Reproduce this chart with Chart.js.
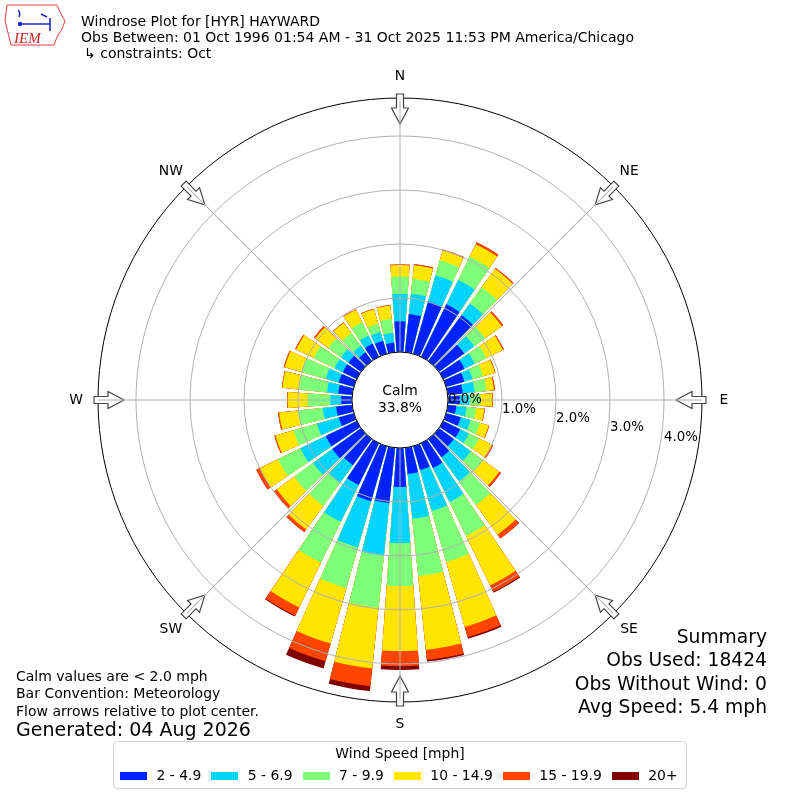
<!DOCTYPE html>
<html>
<head>
<meta charset="utf-8">
<title>Windrose Plot for [HYR] HAYWARD</title>
<script src="https://cdn.jsdelivr.net/npm/chart.js@4.4.1/dist/chart.umd.min.js"></script>
<style>
  body { margin: 0; background: #fff; }
  #wrap { position: relative; width: 800px; height: 800px; font-family: "DejaVu Sans", sans-serif; color: #000; }
  #rose { position: absolute; left: 0; top: 0; }
  .t { position: absolute; white-space: nowrap; line-height: 1; }
  .small { font-size: 14px; }
  .big { font-size: 19px; }
  #summary { position: absolute; right: 33px; top: 625px; text-align: right; font-size: 18.7px; line-height: 23.3px; white-space: nowrap; }
  #legend { position: absolute; left: 113px; top: 741px; width: 572px; height: 46px; border: 1px solid #d0d0d0; border-radius: 4px; font-size: 13.9px; }
  #legend .title { position: absolute; left: 0; right: 0; top: 5px; text-align: center; line-height: 1; white-space: nowrap; }
  #legend .row { position: absolute; left: 6px; top: 27px; display: flex; align-items: center; line-height: 1; white-space: nowrap; width: 600px; }
  #legend .item { display: flex; align-items: center; margin-right: 10px; flex-shrink: 0; white-space: nowrap; }
  #legend .sw { width: 27px; height: 8px; margin-right: 9.5px; flex-shrink: 0; }
  #logo { position: absolute; left: 0; top: 0; }
</style>
</head>
<body>
<div id="wrap">
  <canvas id="rose" width="800" height="800"></canvas>

  <svg id="logo" width="70" height="52" viewBox="0 0 70 52">
    <path d="M7 5 L57 5 L60 12 L65 21 L62 29 L57 37 L54 45 L11 45 L8 33 L5 20 Z" fill="none" stroke="#e04040" stroke-width="1"/>
    <path d="M18 24 L50 24 M50 18 L50 31 M41 14 L47 17 M18 10 Q21 13 19 17" stroke="#1a2ad0" stroke-width="1.6" fill="none"/>
    <circle cx="20" cy="24" r="2.2" fill="#1a2ad0"/>
    <text x="14" y="43" fill="#d02020" font-family="Liberation Serif, serif" font-style="italic" font-size="15">IEM</text>
  </svg>

  <div class="t small" style="left:81px; top:14px;">Windrose Plot for [HYR] HAYWARD</div>
  <div class="t small" style="left:81px; top:30px;">Obs Between: 01 Oct 1996 01:54 AM - 31 Oct 2025 11:53 PM America/Chicago</div>
  <div class="t small" style="left:84px; top:46px;">↳ constraints: Oct</div>

  <div class="t small" style="left:16px; top:669px;">Calm values are &lt; 2.0 mph</div>
  <div class="t small" style="left:16px; top:686px;">Bar Convention: Meteorology</div>
  <div class="t small" style="left:16px; top:704px;">Flow arrows relative to plot center.</div>
  <div class="t big" style="left:16px; top:720px;">Generated: 04 Aug 2026</div>

  <div id="summary">
    <div>Summary</div>
    <div>Obs Used: 18424</div>
    <div>Obs Without Wind: 0</div>
    <div>Avg Speed: 5.4 mph</div>
  </div>

  <div id="legend">
    <div class="title">Wind Speed [mph]</div>
    <div class="row" id="legendRow"></div>
  </div>
</div>

<script>
// wind directions (deg, direction the wind blows from)
const directions = [0, 10, 20, 30, 40, 50, 60, 70, 80, 90, 100, 110,
                    120, 130, 140, 150, 160, 170, 180, 190, 200, 210, 220, 230,
                    240, 250, 260, 270, 280, 290, 300, 310, 320, 330, 340, 350];

const speedBins = ['2 - 4.9', '5 - 6.9', '7 - 9.9', '10 - 14.9', '15 - 19.9', '20+'];
const binColors = ['#0022ff', '#00d4ff', '#7dff7a', '#ffe500', '#ff4500', '#800000'];

// frequency (% of obs) per direction for each speed bin
const freq2to5   = [0.57, 0.71, 1.01, 1.08, 1.05, 0.58, 0.44, 0.35, 0.28, 0.22, 0.16, 0.28,
                    0.35, 0.34, 0.42, 0.51, 0.46, 0.49, 0.72, 1.03, 1.06, 0.86, 0.60, 0.66,
                    0.64, 0.29, 0.30, 0.20, 0.26, 0.29, 0.29, 0.29, 0.20, 0.27, 0.25, 0.18];
const freq5to7   = [0.51, 0.38, 0.50, 0.50, 0.27, 0.23, 0.21, 0.16, 0.22, 0.18, 0.19, 0.19,
                    0.18, 0.39, 0.55, 0.70, 0.79, 0.83, 1.04, 0.98, 0.89, 0.76, 0.41, 0.44,
                    0.52, 0.42, 0.25, 0.20, 0.21, 0.25, 0.17, 0.17, 0.15, 0.17, 0.17, 0.18];
const freq7to10  = [0.32, 0.28, 0.29, 0.48, 0.37, 0.25, 0.24, 0.20, 0.22, 0.20, 0.18, 0.18,
                    0.21, 0.28, 0.54, 0.70, 0.98, 1.07, 0.80, 0.97, 0.78, 0.84, 0.52, 0.43,
                    0.46, 0.45, 0.46, 0.42, 0.52, 0.47, 0.43, 0.29, 0.29, 0.27, 0.16, 0.26];
const freq10to15 = [0.21, 0.25, 0.19, 0.26, 0.42, 0.38, 0.34, 0.23, 0.14, 0.22, 0.15, 0.17,
                    0.27, 0.37, 0.68, 1.02, 1.25, 1.37, 1.20, 1.13, 1.07, 0.92, 0.54, 0.40,
                    0.38, 0.35, 0.35, 0.37, 0.31, 0.32, 0.36, 0.30, 0.24, 0.26, 0.28, 0.25];
const freq15to20 = [0.01, 0.02, 0.02, 0.04, 0.02, 0.03, 0.02, 0.01, 0.02, 0.01, 0.01, 0.01,
                    0.02, 0.04, 0.09, 0.13, 0.20, 0.19, 0.28, 0.33, 0.34, 0.17, 0.06, 0.06,
                    0.07, 0.02, 0.02, 0.01, 0.01, 0.02, 0.02, 0.03, 0.01, 0.01, 0.01, 0.01];
const freq20up   = [0, 0, 0, 0, 0, 0, 0, 0, 0, 0, 0, 0,
                    0, 0, 0, 0.02, 0.03, 0.03, 0.07, 0.09, 0.14, 0.02, 0, 0,
                    0, 0, 0, 0, 0, 0, 0, 0, 0, 0, 0, 0];

const calmPct = 33.8;
const rTicks = [0, 1, 2, 3, 4];
const compassLabels = ['N', 'NE', 'E', 'SE', 'S', 'SW', 'W', 'NW'];

const bins = [freq2to5, freq5to7, freq7to10, freq10to15, freq15to20, freq20up];
const barAngle = 8.2;              // each 10 deg sector, bar part
const gapAngle = 10 - barAngle;    // white gap between bars

// polarArea has no stacking: build cumulative rings, smallest drawn on top.
// every direction is followed by an empty gap slice.
const labels = [];
directions.forEach(d => { labels.push(d + '°'); labels.push(''); });

const running = directions.map(() => 0);
const datasets = bins.map((bin, k) => {
    const data = [];
    directions.forEach((d, i) => {
        running[i] += bin[i];
        data.push(+running[i].toFixed(3));
        data.push(0);
    });
    return {
        label: speedBins[k],
        data: data,
        backgroundColor: binColors[k],
        borderWidth: 0,
        angle: ctx => (ctx.dataIndex % 2 ? gapAngle : barAngle)
    };
});

// html legend
const row = document.getElementById('legendRow');
speedBins.forEach((name, k) => {
    const item = document.createElement('div');
    item.className = 'item';
    item.innerHTML = '<span class="sw" style="background:' + binColors[k] + '"></span><span>' + name + '</span>';
    row.appendChild(item);
});

const roseDecor = {
    id: 'roseDecor',
    afterDraw(chart) {
        const ctx = chart.ctx;
        const s = chart.scales.r;
        const cx = s.xCenter, cy = s.yCenter, R = s.drawingArea;
        const r0 = s.getDistanceFromCenterForValue(0);

        ctx.save();
        ctx.strokeStyle = '#000';
        ctx.lineWidth = 1;
        ctx.beginPath();
        ctx.arc(cx, cy, R, 0, Math.PI * 2);
        ctx.stroke();

        compassLabels.forEach((name, i) => {
            const a = (i * 45 - 90) * Math.PI / 180;
            ctx.save();
            ctx.translate(cx, cy);
            ctx.rotate(a);
            // flow arrow pointing at the center
            ctx.beginPath();
            ctx.moveTo(R + 4, -3.5);
            ctx.lineTo(R - 10, -3.5);
            ctx.lineTo(R - 10, -8.5);
            ctx.lineTo(R - 26, 0);
            ctx.lineTo(R - 10, 8.5);
            ctx.lineTo(R - 10, 3.5);
            ctx.lineTo(R + 4, 3.5);
            ctx.closePath();
            ctx.fillStyle = '#fff';
            ctx.fill();
            ctx.strokeStyle = '#444';
            ctx.lineWidth = 1.2;
            ctx.stroke();
            // spoke
            ctx.beginPath();
            ctx.moveTo(r0, 0);
            ctx.lineTo(R, 0);
            ctx.strokeStyle = '#b0b0b0';
            ctx.lineWidth = 1;
            ctx.stroke();
            ctx.restore();

            ctx.fillStyle = '#000';
            ctx.font = '13.9px "DejaVu Sans"';
            ctx.textAlign = 'center';
            ctx.textBaseline = 'middle';
            ctx.fillText(name, cx + Math.cos(a) * (R + 22), cy + Math.sin(a) * (R + 22));
        });

        // calm circle
        ctx.beginPath();
        ctx.arc(cx, cy, r0, 0, Math.PI * 2);
        ctx.fillStyle = '#fff';
        ctx.fill();
        ctx.strokeStyle = '#000';
        ctx.lineWidth = 1;
        ctx.stroke();

        ctx.fillStyle = '#000';
        ctx.font = '13.9px "DejaVu Sans"';
        ctx.textAlign = 'center';
        ctx.textBaseline = 'middle';
        ctx.fillText('Calm', cx, cy - 9);
        ctx.fillText(calmPct.toFixed(1) + '%', cx, cy + 8);

        // radial tick labels
        ctx.font = '13.3px "DejaVu Sans"';
        ctx.textAlign = 'left';
        rTicks.forEach(v => {
            const d = s.getDistanceFromCenterForValue(v);
            ctx.fillText(v.toFixed(1) + '%', cx + d, cy + (d - r0) * 0.172);
        });
        ctx.restore();
    }
};

Chart.defaults.font.family = '"DejaVu Sans", sans-serif';

new Chart(document.getElementById('rose'), {
    type: 'polarArea',
    data: { labels: labels, datasets: datasets },
    plugins: [roseDecor],
    options: {
        responsive: false,
        animation: false,
        events: [],
        layout: { padding: { left: 98, right: 98, top: 98, bottom: 98 } },
        plugins: {
            legend: { display: false },
            tooltip: { enabled: false }
        },
        scales: {
            r: {
                min: -0.889,
                max: 4.704,
                startAngle: -barAngle / 2,
                ticks: { display: false },
                afterBuildTicks: scale => { scale.ticks = rTicks.map(v => ({ value: v })); },
                grid: { z: 1, color: '#b0b0b0', lineWidth: 1 },
                angleLines: { display: false },
                pointLabels: { display: false }
            }
        }
    }
});
</script>
</body>
</html>
